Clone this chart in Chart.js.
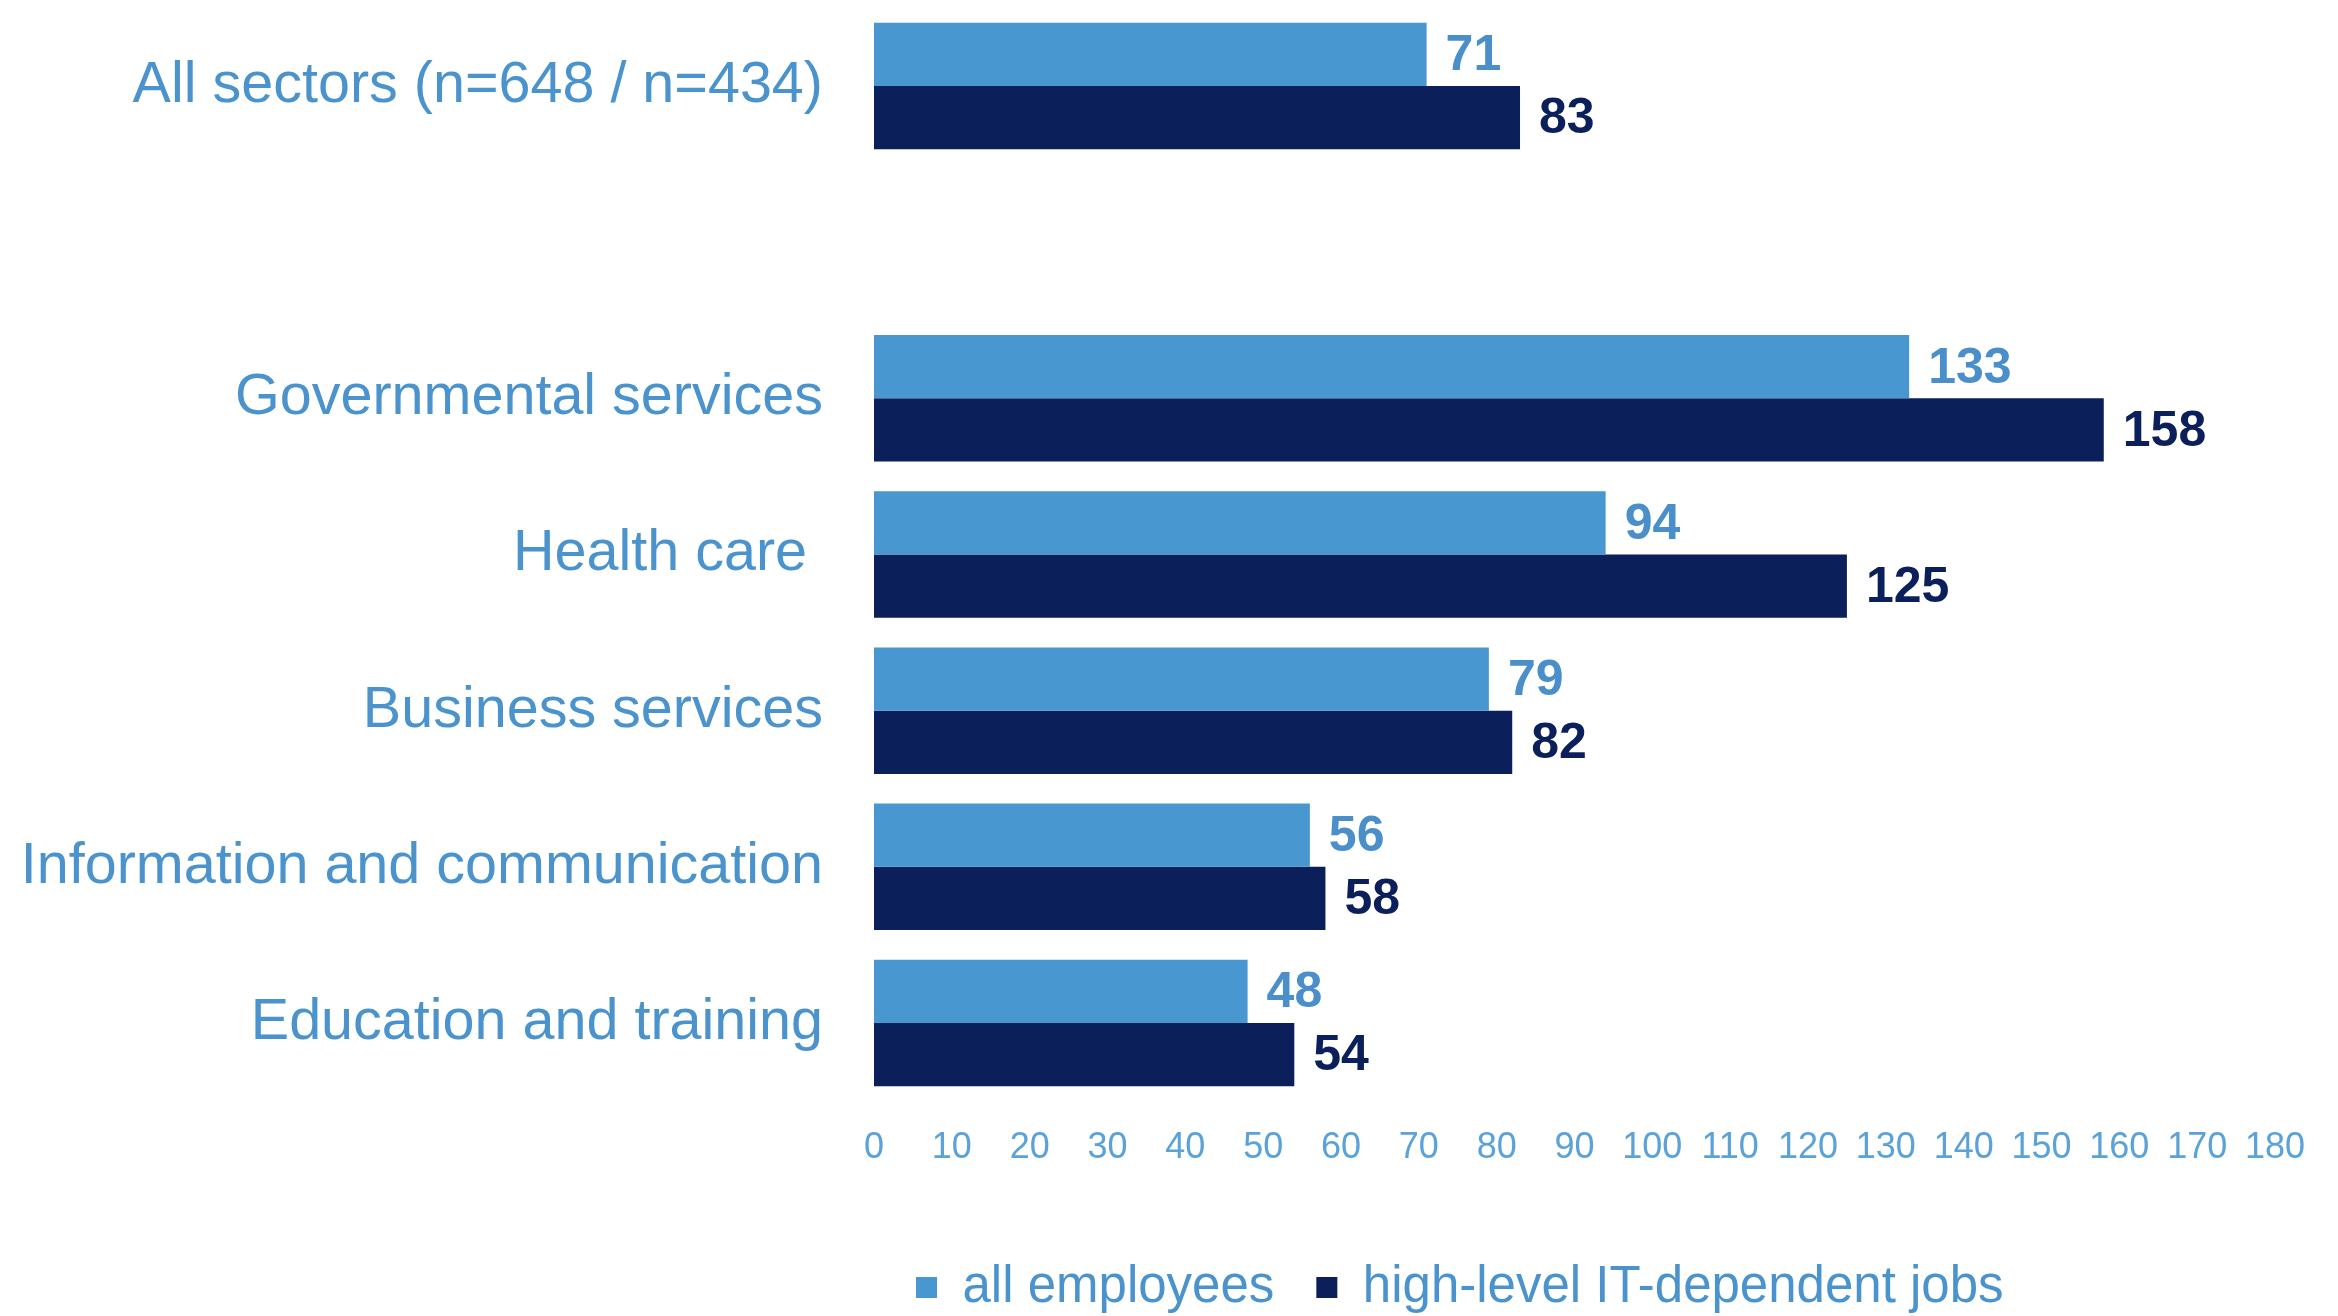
<!DOCTYPE html>
<html>
<head>
<meta charset="utf-8">
<script src="https://cdn.jsdelivr.net/npm/chart.js@4.4.1/dist/chart.umd.min.js"></script>
<style>
  html, body { margin: 0; padding: 0; background: #fff; }
  #wrap { width: 2338px; height: 1316px; }
</style>
</head>
<body>
<div id="wrap"><canvas id="sectorChart" width="2338" height="1316"></canvas></div>
<script>
// sectors, top to bottom (empty one makes the gap under "All sectors")
const sectors = [
  "All sectors (n=648 / n=434)",
  "",
  "Governmental services",
  "Health care ",
  "Business services",
  "Information and communication",
  "Education and training"
];
const allEmployees = [71, null, 133, 94, 79, 56, 48];
const itJobs = [83, null, 158, 125, 82, 58, 54];
const xTicks = [0, 10, 20, 30, 40, 50, 60, 70, 80, 90, 100, 110, 120, 130, 140, 150, 160, 170, 180];

const lightBlue = "#4897d0";
const navy = "#0b1f5a";
const textBlue = "#4a93cd";
const fontFam = "'Liberation Sans', Arial, Helvetica, sans-serif";

// value labels at the end of every bar
const barValues = {
  id: "barValues",
  afterDatasetsDraw(chart) {
    const ctx = chart.ctx;
    ctx.save();
    ctx.font = "bold 50px " + fontFam;
    ctx.textAlign = "left";
    ctx.textBaseline = "middle";
    chart.data.datasets.forEach((ds, i) => {
      const meta = chart.getDatasetMeta(i);
      ctx.fillStyle = i === 0 ? "#4a8fca" : navy;
      meta.data.forEach((bar, j) => {
        const v = ds.data[j];
        if (v == null) return;
        ctx.fillText(String(v), bar.x + 19, bar.y + 2);
      });
    });
    ctx.restore();
  }
};

new Chart(document.getElementById("sectorChart"), {
  type: "bar",
  data: {
    labels: sectors,
    datasets: [
      {
        label: "all employees",
        data: allEmployees,
        backgroundColor: lightBlue,
        barPercentage: 1,
        categoryPercentage: 0.81
      },
      {
        label: "high-level IT-dependent jobs",
        data: itJobs,
        backgroundColor: navy,
        barPercentage: 1,
        categoryPercentage: 0.81
      }
    ]
  },
  options: {
    indexAxis: "y",
    responsive: false,
    animation: false,
    devicePixelRatio: 1,
    layout: { padding: { top: 8, right: 63, left: 0, bottom: -7 } },
    scales: {
      x: {
        min: 0,
        max: 180,
        afterBuildTicks: (scale) => {
          scale.ticks = xTicks.map(v => ({ value: v }));
        },
        afterFit: (scale) => {
          scale.height = 119;
          scale.paddingLeft = 0;
          scale.paddingRight = 0;
        },
        grid: { display: false, drawTicks: false },
        border: { display: false },
        ticks: {
          color: "#5aa2d8",
          padding: 25,
          font: { family: fontFam, size: 36 },
          maxRotation: 0,
          autoSkip: false
        }
      },
      y: {
        afterFit: (scale) => {
          scale.width = 874;
          scale.paddingTop = 0;
          scale.paddingBottom = 0;
        },
        grid: { display: false, drawTicks: false },
        border: { display: false },
        ticks: {
          color: textBlue,
          padding: 51,
          font: { family: fontFam, size: 57.5 },
          autoSkip: false
        }
      }
    },
    plugins: {
      tooltip: { enabled: false },
      legend: {
        position: "bottom",
        align: "start",
        fullSize: false,
        labels: {
          color: textBlue,
          boxWidth: 21,
          boxHeight: 21,
          padding: 42,
          font: { family: fontFam, size: 51 }
        }
      }
    }
  },
  plugins: [barValues]
});
</script>
</body>
</html>
